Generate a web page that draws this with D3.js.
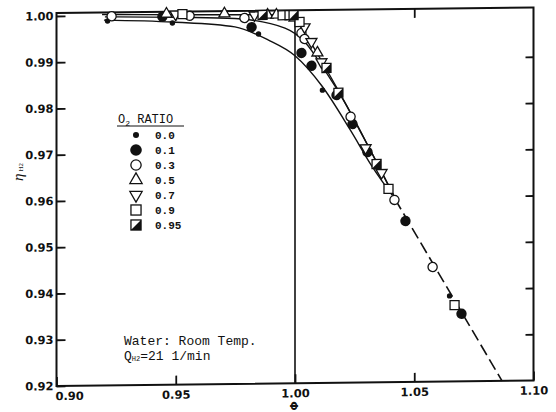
<!DOCTYPE html>
<html>
<head>
<meta charset="utf-8">
<script src="https://cdn.jsdelivr.net/npm/d3@7"></script>
<style>
  body { margin: 0; background: #fff; }
</style>
</head>
<body>
<div id="myChart"></div>
<script>
// tick values
var phiTicks = [0.90, 0.95, 1.00, 1.05, 1.10];
var etaTicks = [0.92, 0.93, 0.94, 0.95, 0.96, 0.97, 0.98, 0.99, 1.00];

// measured points per O2 ratio, [phi, eta]
var ratio00 = [[0.9214, 0.9988], [0.9486, 0.9982], [0.9847, 0.9956], [1.0115, 0.9833], [1.0648, 0.9385]];
var ratio01 = [[0.9444, 0.9996], [0.9818, 0.9971], [1.0027, 0.9914], [1.0069, 0.9886], [1.0174, 0.9822],
               [1.0241, 0.9759], [1.0304, 0.9698], [1.0463, 0.9548], [1.0698, 0.9346]];
var ratio03 = [[0.9231, 0.9998], [0.9558, 0.9997], [0.9788, 0.9991], [1.0027, 0.9957], [1.0040, 0.9944],
               [1.0233, 0.9775], [1.0417, 0.9594], [1.0577, 0.9448]];
var ratio05 = [[0.9461, 1.0002], [0.9704, 1.0001], [0.9885, 0.9997], [0.9922, 0.9997], [0.9998, 0.9990], [1.0094, 0.9914]];
var ratio07 = [[0.9499, 1.0001], [0.9830, 0.9997], [1.0040, 0.9970], [1.0069, 0.9938], [1.0111, 0.9894],
               [1.0296, 0.9707], [1.0363, 0.9653]];
var ratio09 = [[0.9528, 1.0001], [0.9948, 0.9996], [0.9977, 0.9996], [1.0019, 0.9981], [1.0392, 0.9618], [1.0669, 0.9365]];
var ratio095 = [[0.9864, 0.9997], [0.9994, 0.9996], [1.0132, 0.9881], [1.0182, 0.9827], [1.0342, 0.9672]];

var ratioLabels = ["0.0", "0.1", "0.3", "0.5", "0.7", "0.9", "0.95"];
var ratioMarks = ["dot", "disc", "circle", "up", "down", "square", "half"];
var ratioSeries = [ratio00, ratio01, ratio03, ratio05, ratio07, ratio09, ratio095];

// hand drawn fit curves
var curveUpper = [[0.9191, 1.0002], [0.9602, 0.9999], [0.9937, 0.9997], [0.9987, 0.9991], [1.0021, 0.9972],
                  [1.0063, 0.9939], [1.0126, 0.9883], [1.0189, 0.9825], [1.0252, 0.9764], [1.0323, 0.9695], [1.0419, 0.9598]];
var curveMiddle = [[0.9203, 0.9997], [0.9518, 0.9994], [0.9748, 0.9990], [0.9958, 0.9968], [1.0042, 0.9937],
                   [1.0126, 0.9875], [1.0210, 0.9805], [1.0314, 0.9704], [1.0419, 0.9598]];
var curveLower = [[0.9199, 0.9990], [0.9488, 0.9984], [0.9748, 0.9972], [0.9887, 0.9943], [1.0000, 0.9908],
                  [1.0113, 0.9842], [1.0231, 0.9747], [1.0323, 0.9667], [1.0419, 0.9596]];
var dashLine = [[1.0419, 0.9596], [1.0868, 0.9200]];

var width = 556, height = 412;

var svg = d3.select("#myChart")
  .append("svg")
  .attr("width", width)
  .attr("height", height)
  .style("background", "#fff");

var x = d3.scaleLinear().domain([0.90, 1.10]).range([56.5, 533.5]);
var y = d3.scaleLinear().domain([0.92, 1.00]).range([386, 16]);

var x0 = x(0.90), y0 = y(0.92), yTop = y(1.00) - 3;

// the scanned page is slightly skewed
var plot = svg.append("g")
  .attr("transform", "translate(" + x0 + "," + y0 + ") skewY(-0.66) translate(" + (-x0) + "," + (-y0) + ")");

// frame
plot.append("path")
  .attr("d", "M" + x0 + "," + yTop + "H" + x(1.10) + "V" + y0 + "H" + x0 + "Z")
  .attr("fill", "none")
  .attr("stroke", "#111")
  .attr("stroke-width", 2);

// vertical line at phi = 1
plot.append("line")
  .attr("x1", x(1.00)).attr("x2", x(1.00))
  .attr("y1", yTop).attr("y2", y0)
  .attr("stroke", "#111")
  .attr("stroke-width", 1.6);

// axes, ticks pointing inward
var axL = plot.append("g")
  .attr("transform", "translate(" + x0 + ",0)")
  .call(d3.axisLeft(y).tickValues(etaTicks).tickSize(-9).tickPadding(3).tickFormat(d3.format(".2f")));
var axR = plot.append("g")
  .attr("transform", "translate(" + x(1.10) + ",0)")
  .call(d3.axisRight(y).tickValues(etaTicks.slice(1, 8)).tickSize(-8).tickFormat(""));
var axB = plot.append("g")
  .attr("transform", "translate(0," + y0 + ")")
  .call(d3.axisBottom(x).tickValues(phiTicks).tickSize(-9).tickPadding(6).tickFormat(d3.format(".2f")));
var axT = plot.append("g")
  .attr("transform", "translate(0," + yTop + ")")
  .call(d3.axisTop(x).tickValues([0.95, 1.05]).tickSize(-9).tickFormat(""));

[axL, axR, axB, axT].forEach(function(a) {
  a.select(".domain").remove();
  a.selectAll(".tick line").attr("stroke", "#111").attr("stroke-width", 1.8);
  a.selectAll("text")
    .attr("fill", "#111")
    .style("font-family", "'DejaVu Sans', sans-serif")
    .style("font-weight", "bold")
    .style("font-size", "11.5px");
});
axB.selectAll(".tick text").filter(function(d) { return d == 0.90; })
  .attr("text-anchor", "start").attr("dx", -1.5);

// curves
var line = d3.line()
  .x(function(d) { return x(d[0]); })
  .y(function(d) { return y(d[1]); })
  .curve(d3.curveMonotoneX);

[curveUpper, curveMiddle, curveLower].forEach(function(c) {
  plot.append("path")
    .attr("d", line(c))
    .attr("fill", "none")
    .attr("stroke", "#111")
    .attr("stroke-width", 1.4);
});
plot.append("path")
  .attr("d", line(dashLine))
  .attr("fill", "none")
  .attr("stroke", "#111")
  .attr("stroke-width", 1.6)
  .attr("stroke-dasharray", "12,5");

// markers
function addMarker(g, kind, k) {
  if (kind == "dot") {
    g.append("circle").attr("r", 2.7 * k).attr("fill", "#111");
  } else if (kind == "disc") {
    g.append("circle").attr("r", 5.2 * k).attr("fill", "#111");
  } else if (kind == "circle") {
    g.append("circle").attr("r", 4.6 * k).attr("fill", "#fff").attr("stroke", "#111").attr("stroke-width", 1.3);
  } else if (kind == "up" || kind == "down") {
    g.append("path")
      .attr("d", d3.symbol(d3.symbolTriangle, 52 * k * k)())
      .attr("transform", kind == "down" ? "rotate(180)" : null)
      .attr("fill", "#fff").attr("stroke", "#111").attr("stroke-width", 1.3);
  } else {
    var h = 4.5 * k;
    g.append("rect")
      .attr("x", -h).attr("y", -h).attr("width", 2 * h).attr("height", 2 * h)
      .attr("fill", "#fff").attr("stroke", "#111").attr("stroke-width", 1.3);
    if (kind == "half") {
      g.append("path")
        .attr("d", "M" + (-h) + "," + h + "L" + h + "," + (-h) + "L" + h + "," + h + "Z")
        .attr("fill", "#111");
    }
  }
}

ratioSeries.forEach(function(s, i) {
  plot.selectAll(".m" + i)
    .data(s)
    .enter()
    .append("g")
    .attr("class", "m" + i)
    .attr("transform", function(d) { return "translate(" + x(d[0]) + "," + y(d[1]) + ")"; })
    .each(function() { addMarker(d3.select(this), ratioMarks[i], 1); });
});

// legend
var legend = svg.append("g");
var title = legend.append("text")
  .attr("x", 118).attr("y", 123)
  .style("font-family", "'Liberation Mono', monospace")
  .style("font-size", "12px")
  .attr("fill", "#111");
title.append("tspan").text("O");
title.append("tspan").attr("font-size", "8px").attr("dy", 3).text("2");
title.append("tspan").attr("dy", -3).text(" RATIO");
legend.append("line")
  .attr("x1", 117).attr("x2", 184).attr("y1", 126).attr("y2", 126)
  .attr("stroke", "#111").attr("stroke-width", 1);

var rowY = d3.scalePoint().domain(ratioLabels).range([135, 225]);
var rows = legend.selectAll(".row")
  .data(ratioLabels)
  .enter()
  .append("g")
  .attr("class", "row")
  .attr("transform", function(d) { return "translate(0," + rowY(d) + ")"; });
rows.append("g")
  .attr("transform", "translate(136,0)")
  .each(function(d, i) { addMarker(d3.select(this), ratioMarks[i], 1.12); });
rows.append("text")
  .attr("x", 155).attr("y", 4)
  .style("font-family", "'Liberation Mono', monospace")
  .style("font-weight", "bold")
  .style("font-size", "11px")
  .attr("fill", "#111")
  .text(function(d) { return d; });

// notes
var note = svg.append("g")
  .style("font-family", "'Liberation Mono', monospace")
  .style("font-size", "13px")
  .attr("fill", "#111");
note.append("text").attr("x", 124).attr("y", 345).text("Water: Room Temp.");
var q = note.append("text").attr("x", 124).attr("y", 360);
q.append("tspan").text("Q");
q.append("tspan").attr("font-size", "7px").attr("dy", 1).text("H2");
q.append("tspan").attr("dy", -1).text("=21 1/min");

// axis titles
svg.append("text")
  .attr("transform", "translate(294,406) rotate(90)")
  .attr("text-anchor", "middle")
  .attr("dy", "0.35em")
  .style("font-family", "'DejaVu Sans', sans-serif")
  .style("font-weight", "bold")
  .style("font-size", "11px")
  .attr("fill", "#111")
  .text("Φ");

var yl = svg.append("text")
  .attr("transform", "translate(23,172) rotate(-90)")
  .attr("text-anchor", "middle")
  .style("font-family", "'Liberation Serif', serif")
  .style("font-size", "15px")
  .attr("fill", "#111");
yl.append("tspan").style("font-style", "italic").text("η");
yl.append("tspan").attr("font-size", "7px").attr("dx", 2).text("H2");
</script>
</body>
</html>
